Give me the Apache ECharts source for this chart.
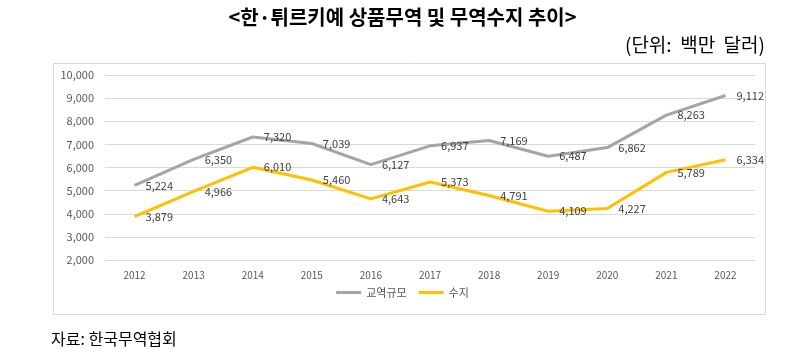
<!DOCTYPE html>
<html><head><meta charset="utf-8">
<script src="https://cdn.jsdelivr.net/npm/echarts@6/dist/echarts.min.js"></script>
<style>html,body{margin:0;padding:0;background:#fff}#c{width:805px;height:358px}</style>
</head><body><div id="c"></div>
<script>
const years = ['2012','2013','2014','2015','2016','2017','2018','2019','2020','2021','2022'];
const tradeVolume = [5224, 6350, 7320, 7039, 6127, 6937, 7169, 6487, 6862, 8263, 9112];
const tradeBalance = [3879, 4966, 6010, 5460, 4643, 5373, 4791, 4109, 4227, 5789, 6334];
const seriesNames = ['교역규모', '수지'];
const titleText = '<한·튀르키예 상품무역 및 무역수지 추이>';
const unitText = '(단위:  백만  달러)';
const sourceText = '자료: 한국무역협회';

const chart = echarts.init(document.getElementById('c'));
const fam = '"Noto Sans CJK KR", "Noto Sans", sans-serif';
const lbl = {show: true, position: 'right', distance: 11, color: '#404040', fontSize: 11, fontFamily: fam,
  formatter: p => p.value.toLocaleString('en-US')};
chart.setOption({
  animation: false,
  textStyle: {fontFamily: fam},
  graphic: [
    {type: 'rect', shape: {x: 53.5, y: 63.5, width: 712, height: 251}, style: {fill: 'none', stroke: '#D9D9D9', lineWidth: 1}, z: -1},
    {type: 'text', left: 'center', top: 7, style: {text: titleText, font: 'bold 20px ' + fam, fill: '#000'}},
    {type: 'text', right: 40, top: 35, style: {text: unitText, font: '19px ' + fam, fill: '#000'}},
    {type: 'text', left: 51, top: 331, style: {text: sourceText, font: '16px ' + fam, fill: '#000'}}
  ],
  grid: {left: 105, right: 50, top: 75, bottom: 98},
  legend: {bottom: 55, left: 'center', itemWidth: 25, itemHeight: 3, itemGap: 12,
    icon: 'rect', textStyle: {color: '#595959', fontSize: 11, fontFamily: fam},
    data: seriesNames},
  xAxis: {type: 'category', data: years, boundaryGap: true,
    axisLine: {show: false}, axisTick: {show: false},
    axisLabel: {color: '#595959', fontSize: 10, margin: 10}},
  yAxis: {type: 'value', min: 2000, max: 10000, interval: 1000,
    axisLabel: {color: '#595959', fontSize: 11, margin: 11, formatter: v => v.toLocaleString('en-US')},
    splitLine: {lineStyle: {color: '#D9D9D9', width: 1}},
    axisLine: {show: false}, axisTick: {show: false}},
  series: [
    {name: seriesNames[0], type: 'line', data: tradeVolume, symbol: 'circle', symbolSize: 0.1, showSymbol: true,
      lineStyle: {color: '#A5A5A5', width: 3}, itemStyle: {color: '#A5A5A5'}, label: lbl},
    {name: seriesNames[1], type: 'line', data: tradeBalance, symbol: 'circle', symbolSize: 0.1, showSymbol: true,
      lineStyle: {color: '#FFC000', width: 3}, itemStyle: {color: '#FFC000'}, label: lbl}
  ]
});
</script></body></html>
